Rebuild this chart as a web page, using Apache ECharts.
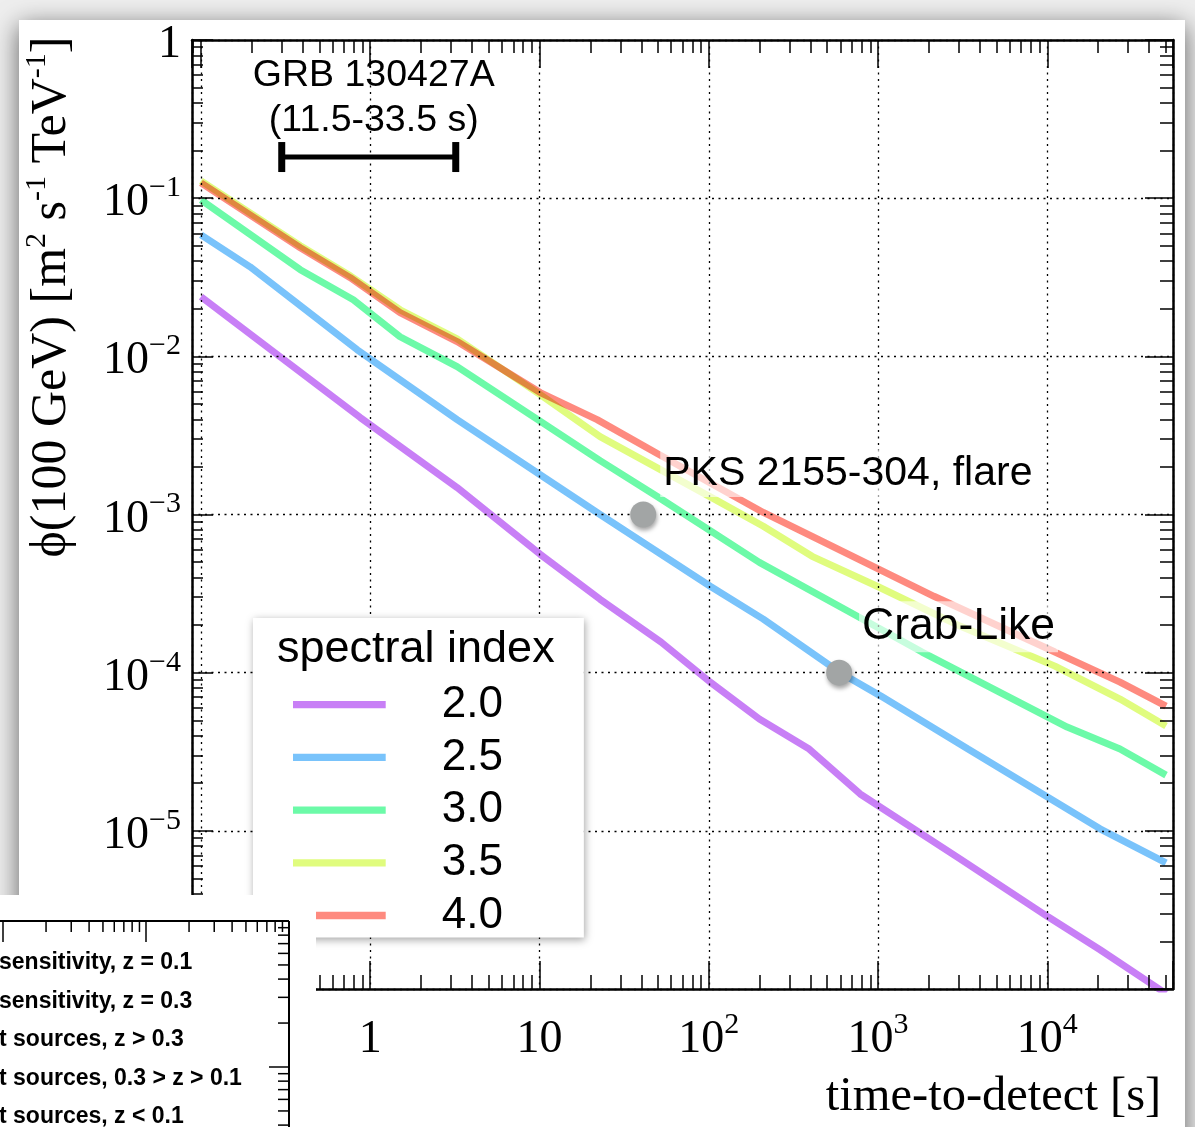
<!DOCTYPE html>
<html><head><meta charset="utf-8">
<script src="https://cdn.jsdelivr.net/npm/echarts@6/dist/echarts.min.js"></script>
<style>html,body{margin:0;padding:0;background:#efefef}#c{width:1195px;height:1127px}</style>
</head><body><div id="c"></div>
<script>
// ---------------- data ----------------
const spectralIndices = ['2.0', '2.5', '3.0', '3.5', '4.0'];

const t20   = [0.1, 0.873, 3.26, 10.1, 22.8, 52.3, 102, 199, 392, 784, 3050, 10100, 20500, 50300];
const phi20 = [0.0238, 0.0041, 0.00148, 5.6e-4, 2.91e-4, 1.56e-4, 8.71e-5, 5.09e-5, 3.29e-5, 1.71e-5, 6.65e-6, 2.86e-6, 1.77e-6, 9.35e-7];

const t25   = [0.1, 0.195, 0.838, 3.26, 22.8, 102, 210, 589, 1040, 3400, 20500, 50300];
const phi25 = [0.0586, 0.0368, 0.0110, 0.00398, 0.00100, 3.52e-4, 2.18e-4, 1.01e-4, 7.11e-5, 3.29e-5, 1.03e-5, 6.27e-6];

const t30   = [0.1, 0.386, 0.794, 1.5, 3.26, 9.18, 22.8, 49.6, 199, 684, 1820, 13100, 26900, 50300];
const phi30 = [0.0976, 0.0353, 0.0228, 0.0133, 0.00861, 0.00416, 0.00219, 0.00130, 4.98e-4, 2.41e-4, 1.35e-4, 4.53e-5, 3.29e-5, 2.25e-5];

const t35   = [0.1, 0.386, 0.762, 1.5, 3.26, 10.1, 22.8, 108, 210, 408, 988, 3050, 11100, 26900, 50300];
const phi35 = [0.1285, 0.0500, 0.0323, 0.0197, 0.0129, 0.00573, 0.00311, 0.00125, 8.42e-4, 5.44e-4, 3.52e-4, 1.97e-4, 1.10e-4, 6.81e-5, 4.60e-5];

const t40   = [0.1, 0.386, 0.762, 1.5, 3.26, 10.1, 21.9, 49.6, 210, 408, 2140, 11100, 26900, 50300];
const phi40 = [0.125, 0.0486, 0.0314, 0.0189, 0.0124, 0.0059, 0.00398, 0.00243, 0.00103, 7.27e-4, 3.04e-4, 1.35e-4, 8.71e-5, 6.14e-5];

const refNames = ['PKS 2155-304, flare', 'Crab-Like'];
const refTimes = [41, 589];
const refFlux  = [1e-3, 1e-4];

const grbLabel = ['GRB 130427A', '(11.5-33.5 s)'];
const grbRange = [0.3, 3.2];
const grbFlux  = 0.182;

const insetLabels = ['sensitivity, z = 0.1', 'sensitivity, z = 0.3', 't sources, z > 0.3',
                     't sources, 0.3 > z > 0.1', 't sources, z < 0.1'];

const xMin = 0.0885, xMax = 55300, yMin = 1e-6, yMax = 1;

// ---------------- styling ----------------
const lineColors = ['#c87ff6', '#79c3fb', '#6cfaa8', '#e0fc7e', '#fe8a7f'];
const refLabelStyle = [
  { offset: [0, -41], distance: 4, fontSize: 41 },
  { offset: [0, -46], distance: 7, fontSize: 44.5 }
];
const SERIF = '"Liberation Serif", "Times New Roman", serif';
const SANS = '"Liberation Sans", Arial, Helvetica, sans-serif';

function minorTicks(lo, hi) {
  const out = [];
  for (let d = Math.floor(lo); d <= Math.ceil(hi); d++)
    for (let k = 2; k <= 9; k++) { const v = d + Math.log10(k); if (v > lo && v < hi) out.push(v); }
  return out;
}
function powLabel(v) {
  const l = Math.log10(v), n = Math.round(l);
  if (Math.abs(l - n) > 0.01) return '';
  if (n === 0) return '{b|1}';
  if (n === 1) return '{b|10}';
  return '{b|10}{s|' + (n < 0 ? '\u2212' + (-n) : n) + '}';
}
const labelRich = {
  b: { fontSize: 46, fontFamily: SERIF, color: '#000', lineHeight: 60 },
  s: { fontSize: 30, fontFamily: SERIF, color: '#000', lineHeight: 30, verticalAlign: 'top' }
};
const blackLine = (w) => ({ color: '#000', width: w });
const gridLine = { show: true, lineStyle: { color: '#000', width: 1.3, type: [2, 4.5] } };
const axisLineOn = { show: true, onZero: false, lineStyle: blackLine(2.5) };
const axisLineOff = { show: false, onZero: false };

const seriesT = [t20, t25, t30, t35, t40];
const seriesPhi = [phi20, phi25, phi30, phi35, phi40];

const lineSeries = spectralIndices.map((name, i) => ({
  type: 'line', name,
  data: seriesT[i].map((t, j) => [t, seriesPhi[i][j]]),
  showSymbol: false, symbol: 'none', clip: true,
  lineStyle: { color: lineColors[i], width: 7 },
  itemStyle: { color: lineColors[i] },
  blendMode: 'multiply', z: 2,
  emphasis: { disabled: true }
}));

const refSeries = {
  type: 'scatter', name: 'ref', z: 5,
  data: refNames.map((n, i) => ({
    name: n, value: [refTimes[i], refFlux[i]],
    label: refLabelStyle[i]
  })),
  symbolSize: 26,
  itemStyle: { color: '#a2a5a5', opacity: 1, shadowBlur: 4, shadowOffsetX: 1, shadowOffsetY: 3, shadowColor: 'rgba(0,0,0,0.35)' },
  label: {
    show: true, formatter: '{b}', position: 'right', fontFamily: SANS, color: '#000',
    backgroundColor: 'rgba(255,255,255,0.62)', padding: [3, 3]
  },
  emphasis: { disabled: true }
};

const grbSeries = {
  type: 'custom', name: 'GRB', z: 5,
  data: [[grbRange[0], grbRange[1], grbFlux]],
  encode: { x: [0, 1], y: 2 },
  renderItem(params, api) {
    const p0 = api.coord([api.value(0), api.value(2)]);
    const p1 = api.coord([api.value(1), api.value(2)]);
    return {
      type: 'group', children: [
        { type: 'rect', shape: { x: p0[0], y: p0[1] - 2.5, width: p1[0] - p0[0], height: 5 }, style: { fill: '#000' } },
        { type: 'rect', shape: { x: p0[0] - 3.5, y: p0[1] - 15, width: 7, height: 30 }, style: { fill: '#000' } },
        { type: 'rect', shape: { x: p1[0] - 3.5, y: p0[1] - 15, width: 7, height: 30 }, style: { fill: '#000' } },
        { type: 'text', x: (p0[0] + p1[0]) / 2 + 5, y: p0[1] - 14,
          style: { text: grbLabel.join('\n'), fontSize: 37.5, fontFamily: SANS, fill: '#000',
                   align: 'center', verticalAlign: 'bottom', lineHeight: 45 } }
      ]
    };
  }
};

// ---------------- inset panel (overlapping neighbour figure) ----------------
const IZ = 200;
const inset = [];
const iLine = (x1, y1, x2, y2, w) => ({ type: 'line', z: IZ + 1, silent: true, shape: { x1, y1, x2, y2 }, style: { stroke: '#000', lineWidth: w } });
inset.push({ type: 'rect', z: IZ, silent: true, shape: { x: 0, y: 895, width: 316, height: 232 }, style: { fill: '#fff' } });
inset.push(iLine(0, 921, 289, 921, 2));
inset.push(iLine(289, 921, 289, 1127, 2));
[3, 146].forEach(x0 => {
  inset.push(iLine(x0, 921, x0, 942, 1.5));
  for (let k = 2; k <= 9; k++) {
    const x = x0 + 143 * Math.log10(k);
    inset.push(iLine(x, 921, x, 932, 1.5));
  }
});
inset.push(iLine(269, 1067, 289, 1067, 1.5));
inset.push(iLine(269, 921, 289, 921, 1.5));
for (let k = 2; k <= 9; k++) {
  [1067 - 146 * Math.log10(k), 1067 + 146 * (1 - Math.log10(k))].forEach(y => {
    if (y > 921 && y < 1127) inset.push(iLine(278, y, 289, y, 1.5));
  });
}
insetLabels.forEach((s, i) => {
  inset.push({ type: 'text', z: IZ + 1, silent: true, x: -1, y: 963 + i * 38.5,
    style: { text: s, fontSize: 23, fontWeight: 'bold', fontFamily: SANS, fill: '#000', align: 'left', verticalAlign: 'middle' } });
});

// ---------------- chart ----------------
const chart = echarts.init(document.getElementById('c'), null, { renderer: 'canvas' });
chart.setOption({
  animation: false,
  backgroundColor: '#eeeeee',
  textStyle: { fontFamily: SANS },
  grid: { left: 192, right: 22, top: 40, bottom: 138, containLabel: false, outerBoundsMode: 'none' },
  legend: {
    data: spectralIndices, orient: 'vertical', left: 253, top: 618,
    padding: [64.7, 81, 0, 40], itemGap: 8.7, itemWidth: 92.7, itemHeight: 7.3, icon: 'rect',
    backgroundColor: '#fff', shadowBlur: 8, shadowColor: 'rgba(0,0,0,0.35)', shadowOffsetX: 1, shadowOffsetY: 2,
    textStyle: { fontSize: 44, fontFamily: SANS, color: '#000', lineHeight: 44, padding: [0, 0, 0, 51] },
    selectedMode: false, z: 10
  },
  xAxis: [
    { type: 'log', logBase: 10, min: xMin, max: xMax, position: 'bottom',
      axisLine: axisLineOn,
      axisTick: { show: true, inside: true, length: 28, lineStyle: blackLine(1.5) },
      axisLabel: { formatter: powLabel, margin: 21, rich: labelRich },
      splitLine: gridLine,
      name: 'time-to-detect [s]', nameLocation: 'middle', nameGap: 83,
      nameTextStyle: { fontSize: 48.5, fontFamily: SERIF, color: '#000', lineHeight: 50, padding: [0, 0, 0, 622] } },
    { type: 'value', min: Math.log10(xMin), max: Math.log10(xMax), position: 'bottom',
      axisLine: axisLineOff, axisLabel: { show: false }, splitLine: { show: false },
      axisTick: { show: true, inside: true, length: 14, lineStyle: blackLine(1.5), customValues: minorTicks(Math.log10(xMin), Math.log10(xMax)) } },
    { type: 'log', logBase: 10, min: xMin, max: xMax, position: 'top',
      axisLine: axisLineOn,
      axisTick: { show: true, inside: true, length: 28, lineStyle: blackLine(1.5) },
      axisLabel: { show: false }, splitLine: { show: false } },
    { type: 'value', min: Math.log10(xMin), max: Math.log10(xMax), position: 'top',
      axisLine: axisLineOff, axisLabel: { show: false }, splitLine: { show: false },
      axisTick: { show: true, inside: true, length: 13, lineStyle: blackLine(1.5), customValues: minorTicks(Math.log10(xMin), Math.log10(xMax)) } }
  ],
  yAxis: [
    { type: 'log', logBase: 10, min: yMin, max: yMax, position: 'left',
      axisLine: axisLineOn,
      axisTick: { show: true, inside: true, length: 21, lineStyle: blackLine(1.5) },
      axisLabel: { formatter: powLabel, margin: 11, rich: labelRich, padding: [10, 0, 0, 0] },
      splitLine: gridLine,
      name: '{t|\u03D5(100 GeV) [m}{s|2}{t| s}{s|-1}{t| TeV}{s|-1}{t|]}',
      nameLocation: 'middle', nameGap: 110, nameRotate: 90,
      nameTextStyle: { padding: [0, 0, 0, 435], rich: {
        t: { fontSize: 50, fontFamily: SERIF, color: '#000', lineHeight: 60 },
        s: { fontSize: 30, fontFamily: SERIF, color: '#000', lineHeight: 30, verticalAlign: 'top' } } } },
    { type: 'value', min: -6, max: 0, position: 'left',
      axisLine: axisLineOff, axisLabel: { show: false }, splitLine: { show: false },
      axisTick: { show: true, inside: true, length: 11, lineStyle: blackLine(1.5), customValues: minorTicks(-6, 0) } },
    { type: 'log', logBase: 10, min: yMin, max: yMax, position: 'right',
      axisLine: axisLineOn,
      axisTick: { show: true, inside: true, length: 28, lineStyle: blackLine(1.5) },
      axisLabel: { show: false }, splitLine: { show: false } },
    { type: 'value', min: -6, max: 0, position: 'right',
      axisLine: axisLineOff, axisLabel: { show: false }, splitLine: { show: false },
      axisTick: { show: true, inside: true, length: 13, lineStyle: blackLine(1.5), customValues: minorTicks(-6, 0) } }
  ],
  series: [...lineSeries, refSeries, grbSeries],
  graphic: [
    { type: 'rect', z: -10, silent: true, shape: { x: 19, y: 20, width: 1166, height: 1140 },
      style: { fill: '#fff', shadowBlur: 24, shadowColor: 'rgba(0,0,0,0.6)', shadowOffsetY: 6 } },
    { type: 'text', z: 20, left: 277, top: 627,
      style: { text: 'spectral index', fontSize: 45, fontFamily: SANS, fill: '#000' } },
    ...inset
  ]
});
</script></body></html>
